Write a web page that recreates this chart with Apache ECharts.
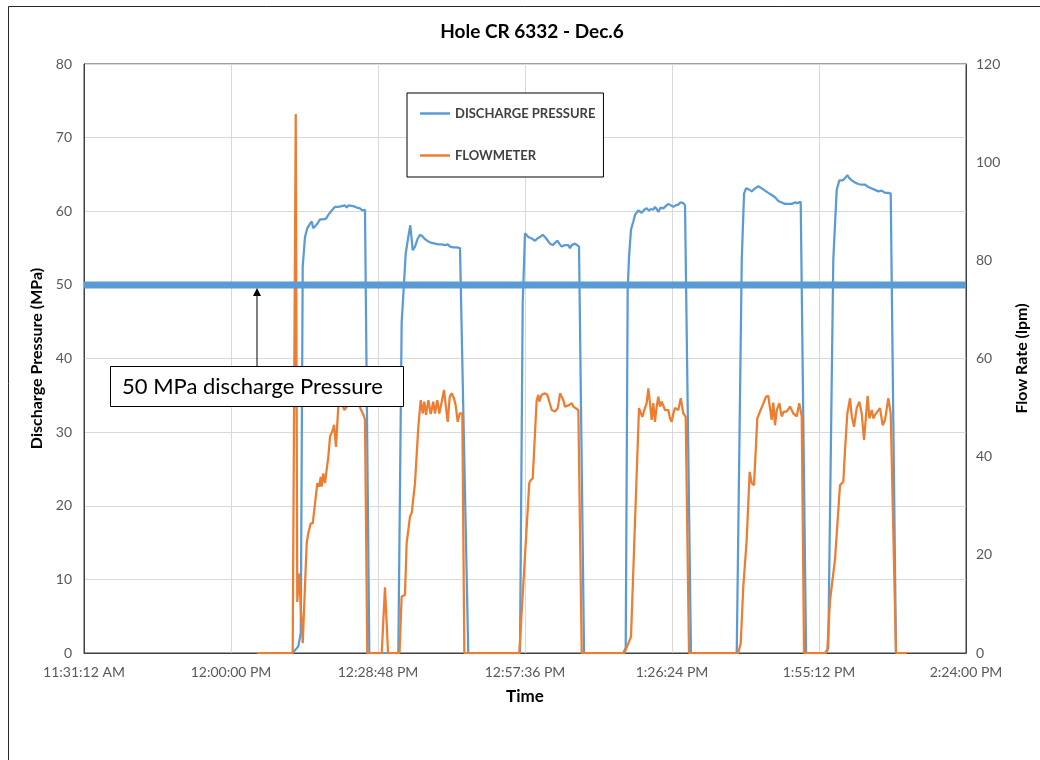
<!doctype html>
<html lang="en">
<head>
    <meta charset="UTF-8">
    <title>Hole CR 6332 - Dec.6</title>
    <script src="https://cdn.jsdelivr.net/npm/echarts@6/dist/echarts.min.js"></script>
    <style>
        html, body { margin: 0; padding: 0; background: #fff; }
        #chart { width: 1040px; height: 760px; }
    </style>
</head>
<body>
<div id="chart"></div>
<script>
    // time is minutes after 12:00:00 PM
    const pressure = [
        [5.09, 0], [12.09, 0], [13.19, 0.9], [13.66, 2.7], [14.05, 52.5], [14.50, 56.5], [14.95, 57.7], [15.48, 58.3],
        [15.81, 58.6], [16.12, 57.7], [16.46, 57.8], [16.91, 58.3], [17.44, 58.9], [18.08, 58.9], [18.61, 59.0],
        [19.06, 59.5], [19.73, 60.1], [20.38, 60.6], [21.02, 60.6], [21.69, 60.7], [22.33, 60.8], [22.67, 60.5],
        [22.98, 60.8], [23.31, 60.8], [23.96, 60.7], [24.63, 60.5], [25.27, 60.4], [25.80, 60.1], [26.25, 60.2], [27.10, 0],
        [32.78, 0], [33.44, 44.8], [34.23, 54.3], [34.74, 56.5], [35.13, 58.1], [35.60, 54.7], [36.05, 55.2], [36.58, 56.3],
        [37.03, 56.8], [37.48, 56.6], [38.01, 56.2], [38.66, 55.9], [39.32, 55.7], [39.97, 55.6], [40.61, 55.5],
        [41.28, 55.5], [41.93, 55.4], [42.46, 55.5], [42.91, 55.2], [43.55, 55.1], [44.22, 55.1], [44.87, 55.0],
        [45.20, 55.0], [46.49, 0],
        [56.62, 0], [57.15, 47.5], [57.60, 57.0], [58.25, 56.5], [58.91, 56.3], [59.56, 56.0], [60.01, 56.3], [60.54, 56.5],
        [61.07, 56.8], [61.52, 56.5], [61.97, 56.1], [62.50, 55.6], [63.03, 55.4], [63.48, 55.7], [63.93, 56.0],
        [64.32, 55.6], [64.79, 55.2], [65.11, 55.0], [65.44, 55.4], [65.77, 55.6], [66.08, 55.4], [66.42, 55.0],
        [66.75, 55.4], [67.06, 55.5], [67.40, 55.6], [67.73, 55.4], [68.18, 55.2], [69.16, 0],
        [76.86, 0], [77.33, 0.7], [77.72, 49.3], [77.98, 53.8], [78.37, 57.5], [78.82, 58.6], [79.15, 59.5], [79.49, 59.3],
        [79.80, 60.1], [80.13, 60.3], [80.46, 59.8], [80.97, 60.2], [81.44, 60.4], [81.89, 60.1], [82.29, 60.3],
        [82.74, 60.2], [83.07, 60.6], [83.40, 60.3], [83.72, 59.9], [84.19, 60.5], [84.70, 60.4], [85.17, 60.7],
        [85.68, 61.0], [86.20, 60.8], [86.66, 60.6], [87.13, 60.8], [87.64, 60.9], [88.03, 61.2], [88.62, 61.1],
        [88.95, 60.8], [90.12, 0],
        [99.08, 0], [100.06, 53.4], [100.51, 62.4], [100.90, 63.1], [101.35, 63.0], [102.02, 62.7], [102.66, 63.1],
        [103.31, 63.4], [103.98, 63.1], [104.62, 62.8], [105.27, 62.5], [105.93, 62.2], [106.58, 61.9], [107.23, 61.4],
        [107.89, 61.2], [108.54, 61.0], [109.19, 61.0], [109.85, 61.0], [110.50, 61.2], [110.95, 61.1], [111.62, 61.3],
        [112.66, 0],
        [116.57, 0], [117.02, 0.6], [118.00, 53.4], [118.67, 62.9], [119.18, 64.2], [119.84, 64.2], [120.30, 64.5],
        [120.75, 64.9], [121.14, 64.5], [121.61, 64.2], [122.26, 63.9], [122.90, 63.7], [123.57, 63.6], [124.22, 63.6],
        [124.86, 63.3], [125.53, 63.1], [126.17, 62.9], [126.82, 62.7], [127.49, 62.8], [128.13, 62.5], [128.78, 62.5],
        [129.25, 62.4], [130.29, 0]
    ]

    const flow = [
        [5.09, 0], [12.09, 0], [12.68, 109.8], [12.99, 10.4], [13.32, 16.2], [13.66, 9.4], [14.05, 2.0], [14.83, 22.4],
        [15.14, 24.4], [15.61, 26.4], [16.01, 26.4], [16.91, 34.6], [17.30, 33.9], [17.57, 35.9], [17.77, 33.9],
        [18.08, 36.6], [18.42, 34.6], [19.06, 40.0], [19.40, 44.1], [19.93, 45.4], [20.18, 46.5], [20.57, 42.0],
        [21.02, 50.2], [21.69, 50.9], [22.20, 49.5], [22.67, 50.2], [23.12, 52.5], [23.71, 51.5], [24.29, 53.0],
        [24.88, 51.5], [25.27, 50.0], [25.92, 48.6], [26.25, 47.5], [26.70, 0], [29.53, 0], [30.17, 13.4], [30.76, 0],
        [33.01, 0], [33.44, 11.5], [34.09, 11.8], [34.42, 22.4], [35.07, 27.8], [35.40, 28.5], [36.05, 34.6], [36.70, 46.1],
        [37.17, 51.5], [37.56, 48.8], [37.87, 51.2], [38.20, 48.5], [38.66, 51.5], [39.13, 48.7], [39.63, 51.2],
        [39.97, 48.8], [40.42, 51.5], [40.81, 48.8], [41.28, 51.2], [41.73, 53.6], [42.18, 49.5], [42.46, 47.1],
        [42.85, 52.2], [43.24, 52.9], [43.69, 51.9], [44.02, 50.5], [44.42, 47.1], [44.81, 48.8], [45.06, 49.2],
        [45.32, 48.8], [45.71, 0],
        [56.49, 0], [58.44, 34.6], [58.72, 35.2], [59.11, 35.6], [59.89, 51.5], [60.21, 52.6], [60.40, 51.2], [60.87, 52.6],
        [61.52, 52.9], [61.97, 52.6], [62.36, 51.2], [62.83, 49.5], [63.48, 49.2], [64.01, 49.9], [64.46, 52.9],
        [64.79, 53.2], [65.11, 51.5], [65.44, 50.2], [65.77, 49.9], [66.22, 50.5], [66.75, 50.9], [67.06, 50.2],
        [67.40, 49.9], [68.05, 49.5], [68.37, 49.5], [68.71, 0],
        [77.06, 0], [78.37, 3.3], [79.94, 49.9], [80.13, 50.2], [80.58, 48.1], [80.97, 49.5], [81.44, 50.9], [81.76, 53.9],
        [82.09, 50.9], [82.42, 47.5], [82.74, 50.9], [83.07, 47.1], [83.40, 50.2], [83.72, 52.2], [84.05, 50.2],
        [84.38, 51.2], [84.70, 51.5], [85.03, 49.5], [85.36, 49.2], [85.68, 49.5], [86.01, 47.8], [86.34, 47.1],
        [86.66, 48.8], [86.99, 49.9], [87.32, 50.2], [87.64, 49.5], [88.11, 51.9], [88.62, 48.8], [89.09, 48.1], [89.73, 0],
        [99.39, 0], [99.86, 2.0], [100.37, 13.5], [101.04, 23.0], [101.62, 36.9], [102.02, 34.6], [102.47, 34.2],
        [103.12, 47.8], [103.64, 49.2], [104.17, 50.5], [104.82, 52.2], [105.27, 52.4], [105.60, 49.9], [105.93, 47.5],
        [106.25, 51.0], [106.58, 46.4], [106.91, 49.5], [107.43, 50.9], [107.89, 48.2], [108.34, 49.2], [108.87, 49.2],
        [109.52, 50.2], [110.17, 48.8], [110.83, 48.2], [111.34, 50.9], [111.81, 48.2], [112.26, 0],
        [116.38, 0], [116.83, 0.7], [117.36, 10.8], [118.00, 16.2], [118.34, 19.0], [119.32, 34.2], [119.96, 34.9],
        [120.30, 41.4], [120.75, 48.8], [121.28, 51.9], [121.61, 48.2], [122.06, 46.1], [122.59, 49.9], [123.10, 51.2],
        [123.57, 48.8], [124.02, 43.4], [124.74, 52.4], [125.06, 47.8], [125.53, 49.5], [125.84, 47.8], [126.17, 48.5],
        [126.50, 48.8], [127.15, 49.9], [127.68, 46.4], [128.13, 47.5], [128.78, 51.9], [129.25, 48.8], [130.29, 0],
        [132.38, 0]
    ]

    // x axis: seconds of the day, 11:31:12 AM .. 2:24:00 PM, step 28:48
    const timeMin = 41472
    const timeMax = 51840
    const timeStep = 1728
    const pressureTicks = [0, 80, 10]
    const flowTicks = [0, 120, 20]
    const thresholdMPa = 50

    const toSec = m => 43200 + Math.round(m * 60)
    const pad = n => (n < 10 ? '0' : '') + n
    function clock(sec) {
        sec = Math.round(sec)
        const h = Math.floor(sec / 3600)
        const m = Math.floor((sec % 3600) / 60)
        const s = sec % 60
        let hh = h % 12
        if (hh === 0) hh = 12
        return hh + ':' + pad(m) + ':' + pad(s) + (h >= 12 ? ' PM' : ' AM')
    }

    const font = 'Lato'
    const blue = '#5b9bd5'
    const orange = '#ed7d31'
    const nameStyle = {fontFamily: font, fontSize: 16, fontWeight: 'bold', color: '#000'}
    const tickStyle = {fontFamily: font, fontSize: 14, color: '#595959'}

    const chart = echarts.init(document.getElementById('chart'))
    const option = {
        backgroundColor: '#fff',
        animation: false,
        title: {
            text: 'Hole CR 6332 - Dec.6',
            left: 532,
            top: 22,
            textAlign: 'center',
            padding: 0,
            textStyle: {fontFamily: font, fontSize: 19, fontWeight: 'bold', color: '#000'}
        },
        legend: {
            orient: 'vertical',
            left: 407,
            top: 93,
            padding: [14, 8, 15, 13],
            itemGap: 29,
            itemWidth: 30,
            itemHeight: 2.5,
            icon: 'rect',
            borderColor: '#000',
            borderWidth: 1,
            backgroundColor: '#fff',
            data: ['DISCHARGE PRESSURE', 'FLOWMETER'],
            textStyle: {fontFamily: font, fontSize: 13, fontWeight: 'bold', color: '#404040'}
        },
        grid: {
            left: 84, right: 74, top: 64, bottom: 107,
            show: true, borderColor: '#404040', borderWidth: 1
        },
        xAxis: {
            type: 'value',
            min: timeMin, max: timeMax, interval: timeStep,
            name: 'Time',
            nameLocation: 'middle',
            nameGap: 35,
            nameTextStyle: Object.assign({}, nameStyle, {fontSize: 17}),
            axisLine: {lineStyle: {color: '#404040'}},
            axisTick: {show: false},
            axisLabel: Object.assign({margin: 12, showMinLabel: true, showMaxLabel: true, formatter: v => clock(v)}, tickStyle),
            splitLine: {show: true, lineStyle: {color: '#d9d9d9'}}
        },
        yAxis: [
            {
                type: 'value',
                min: pressureTicks[0], max: pressureTicks[1], interval: pressureTicks[2],
                name: 'Discharge Pressure (MPa)',
                nameLocation: 'middle',
                nameRotate: 90,
                nameGap: 36,
                nameTextStyle: nameStyle,
                axisLine: {show: true, lineStyle: {color: '#404040'}},
                axisTick: {show: false},
                axisLabel: Object.assign({margin: 12}, tickStyle),
                splitLine: {show: true, lineStyle: {color: '#d9d9d9'}}
            },
            {
                type: 'value',
                position: 'right',
                min: flowTicks[0], max: flowTicks[1], interval: flowTicks[2],
                name: 'Flow Rate (lpm)',
                nameLocation: 'middle',
                nameRotate: 90,
                nameGap: 48,
                nameTextStyle: nameStyle,
                axisLine: {show: true, lineStyle: {color: '#404040'}},
                axisTick: {show: false},
                axisLabel: Object.assign({margin: 10}, tickStyle),
                splitLine: {show: false}
            }
        ],
        series: [
            {
                name: 'DISCHARGE PRESSURE',
                type: 'line',
                yAxisIndex: 0,
                showSymbol: false,
                z: 2,
                lineStyle: {color: blue, width: 2.25},
                itemStyle: {color: blue},
                data: pressure.map(p => [toSec(p[0]), p[1]])
            },
            {
                name: 'FLOWMETER',
                type: 'line',
                yAxisIndex: 1,
                showSymbol: false,
                z: 3,
                lineStyle: {color: orange, width: 2.25},
                itemStyle: {color: orange},
                data: flow.map(p => [toSec(p[0]), p[1]])
            },
            {
                name: '50 MPa',
                type: 'line',
                yAxisIndex: 0,
                showSymbol: false,
                silent: true,
                z: 4,
                lineStyle: {color: blue, width: 7},
                data: [[timeMin, thresholdMPa], [timeMax, thresholdMPa]]
            }
        ]
    }
    chart.setOption(option)

    // annotation box with an arrow pointing at the 50 MPa line
    const lineY = chart.convertToPixel({yAxisIndex: 0}, thresholdMPa) + 3
    const arrowX = 257
    chart.setOption({
        graphic: [
            {
                type: 'rect', z: 100, silent: true,
                shape: {x: 8.5, y: 6.5, width: 1100, height: 900},
                style: {fill: null, stroke: '#262626', lineWidth: 1}
            },
            {
                type: 'line', z: 100, silent: true,
                shape: {x1: arrowX, y1: 366, x2: arrowX, y2: lineY + 6},
                style: {stroke: '#000', lineWidth: 1}
            },
            {
                type: 'polygon', z: 100, silent: true,
                shape: {points: [[arrowX, lineY], [arrowX - 4, lineY + 8], [arrowX + 4, lineY + 8]]},
                style: {fill: '#000'}
            },
            {
                type: 'rect', z: 100, silent: true,
                shape: {x: 110.5, y: 366.5, width: 293, height: 40},
                style: {fill: '#fff', stroke: '#000', lineWidth: 1}
            },
            {
                type: 'text', z: 101, silent: true,
                x: 122, y: 387,
                style: {text: '50 MPa discharge Pressure', font: '22px Lato', fill: '#000', verticalAlign: 'middle'}
            }
        ]
    })
</script>
</body>
</html>
